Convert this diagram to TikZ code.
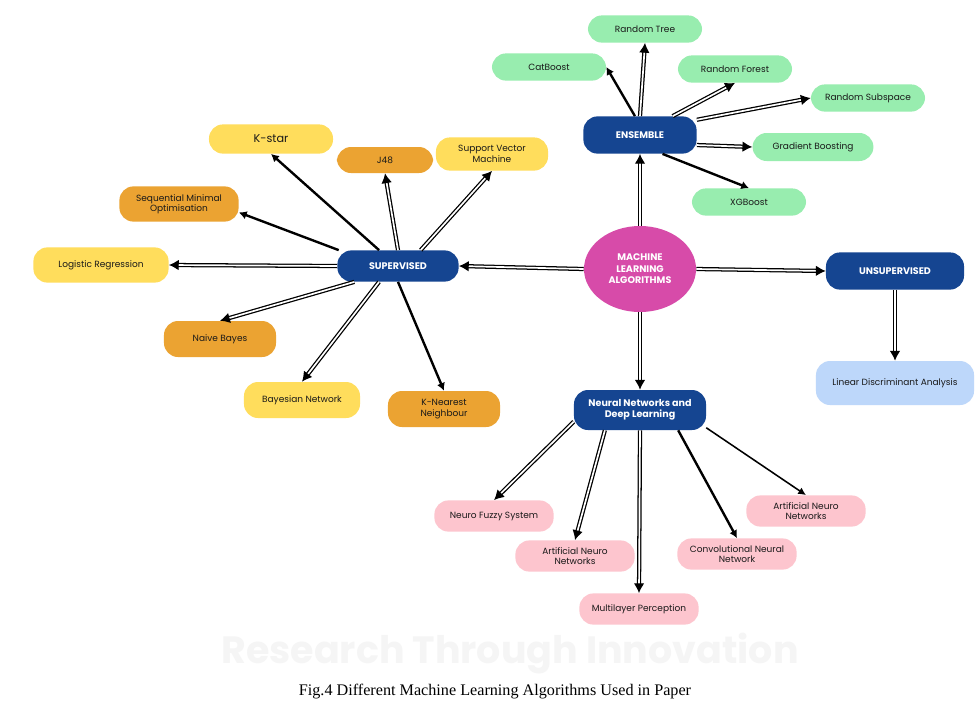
\documentclass[tikz,border=0pt]{standalone}
\usepackage{fontspec}
\setmainfont{Poppins}
\newfontfamily\capfont{Liberation Serif}
\usetikzlibrary{arrows.meta}
\usetikzlibrary{shapes.geometric}
\definecolor{navy}{RGB}{21,69,145}
\definecolor{pinkml}{RGB}{215,75,169}
\definecolor{mint}{RGB}{152,237,175}
\definecolor{sun}{RGB}{255,221,92}
\definecolor{amber}{RGB}{235,163,50}
\definecolor{sky}{RGB}{189,215,250}
\definecolor{rose}{RGB}{253,197,206}
\definecolor{ink}{RGB}{25,25,25}
\tikzset{l/.style={font=\fontsize{6.4}{7.4}\selectfont}}
\tikzset{m/.style={font=\bfseries\fontsize{6.8}{8.2}\selectfont}}
\tikzset{box/.style={rounded corners=10pt, align=center, inner sep=1pt, text=ink, l}}
\tikzset{hub/.style={box, fill=navy, text=white, m}}
\tikzset{grn/.style={box, fill=mint, minimum width=2.85cm, minimum height=0.68cm}}
\tikzset{yel/.style={box, fill=sun, minimum width=2.8cm, minimum height=0.9cm}}
\tikzset{org/.style={box, fill=amber, minimum width=2.8cm, minimum height=0.9cm}}
\tikzset{pnk/.style={box, fill=rose, minimum width=2.98cm, minimum height=0.78cm}}
\tikzset{dbl/.style={double=white, double distance=1.2pt, line width=0.9pt, -{Latex[length=7pt,width=7.5pt]}}}
\tikzset{sgl/.style={line width=1.7pt, -{Latex[length=5.5pt,width=6pt]}}}
\tikzset{thn/.style={line width=1.1pt, -{Latex[length=5.5pt,width=5.5pt]}}}

\begin{document}
\begin{tikzpicture}[x=0.025cm, y=-0.025cm]
  \useasboundingbox[fill=white] (0,0) rectangle (979,712);

  % centre
  \node (ml) [ellipse, fill=pinkml, text=white, m, align=center, inner sep=0pt,
    minimum width=2.8cm, minimum height=2.15cm] at (640,269)
    {MACHINE\\LEARNING\\ALGORITHMS};

  % ensemble
  \node (ens) [hub, minimum width=2.83cm, minimum height=0.93cm] at (640,135) {ENSEMBLE};
  \node (cat) [grn] at (549,67) {CatBoost};
  \node (rtree) [grn] at (645,29) {Random Tree};
  \node (rforest) [grn] at (735,69) {Random Forest};
  \node (rsub) [grn] at (868,98) {Random Subspace};
  \node (gboost) [grn, minimum width=3.02cm, minimum height=0.7cm] at (813,147) {Gradient Boosting};
  \node (xgb) [grn] at (749,202) {XGBoost};

  % supervised
  \node (sup) [hub, minimum width=3.03cm, minimum height=0.78cm] at (398,266) {SUPERVISED};
  \node (kstar) [yel, minimum width=3.1cm, minimum height=0.73cm,
    font=\fontsize{8}{9}\selectfont] at (271,139) {K-star};
  \node (jff) [org, minimum width=2.4cm, minimum height=0.65cm] at (385,160) {J48};
  \node (svm) [yel, minimum height=0.83cm] at (492,154) {Support Vector\\Machine};
  \node (smo) [org, minimum width=2.98cm, minimum height=0.88cm] at (179,204)
    {Sequential Minimal\\Optimisation};
  \node (logreg) [yel, minimum width=3.38cm, minimum height=0.88cm] at (101,265)
    {Logistic Regression};
  \node (nbayes) [org] at (220,339) {Naive Bayes};
  \node (bnet) [yel, minimum width=2.9cm] at (302,400) {Bayesian Network};
  \node (knn) [org] at (444,409) {K-Nearest\\Neighbour};

  % unsupervised
  \node (uns) [hub, minimum width=3.45cm, minimum height=0.93cm] at (895,271) {UNSUPERVISED};
  \node (lda) [box, fill=sky, minimum width=3.95cm, minimum height=1.1cm] at (895,383)
    {Linear Discriminant Analysis};

  % neural networks
  \node (nn) [hub, minimum width=3.3cm, minimum height=1cm] at (640,410)
    {Neural Networks and\\Deep Learning};
  \node (nfs) [pnk] at (494,516) {Neuro Fuzzy System};
  \node (annl) [pnk] at (575,556) {Artificial Neuro\\Networks};
  \node (mlp) [pnk] at (639,609) {Multilayer Perception};
  \node (cnn) [pnk] at (737,554) {Convolutional Neural\\Network};
  \node (annr) [pnk] at (806,511) {Artificial Neuro\\Networks};

  % arrows
  \draw[dbl] (ml.north) -- (ens.south);
  \draw[dbl] (ml.west) -- (sup.east);
  \draw[dbl] (ml.east) -- (uns.west);
  \draw[dbl] (ml.south) -- (nn.north);

  \draw[sgl] (ens.105) -- (cat.east);
  \draw[dbl] (ens.north) -- (rtree.south);
  \draw[dbl] (ens.30) -- (rforest.south);
  \draw[dbl] (ens.15) -- (rsub.west);
  \draw[dbl] (ens.-10) -- (gboost.west);
  \draw[sgl] (ens.-40) -- (xgb.north);

  \draw[sgl] (sup.140) -- (kstar.south);
  \draw[dbl] (sup.north) -- (jff.south);
  \draw[dbl] (sup.35) -- (svm.south);
  \draw[sgl] (sup.165) -- (smo.-8);
  \draw[dbl] (sup.west) -- (logreg.east);
  \draw[dbl] (sup.-160) -- (nbayes.north);
  \draw[dbl] (sup.-140) -- (bnet.north);
  \draw[sgl] (sup.south) -- (knn.north);

  \draw[dbl] (uns.south) -- (lda.north);

  \draw[dbl] (nn.-170) -- (nfs.north);
  \draw[dbl] (nn.-150) -- (annl.north);
  \draw[dbl] (nn.south) -- (mlp.north);
  \draw[sgl] (nn.-28) -- (cnn.north);
  \draw[thn] (nn.-15) -- (annr.north);

  % watermark and caption
  \node (wm) [text=black!4, font=\bfseries\fontsize{27}{29}\selectfont] at (510,654)
    {Research Through Innovation};
  \node (cap) [font=\capfont\fontsize{11.5}{13}\selectfont] at (495,692)
    {Fig.4 Different Machine Learning Algorithms Used in Paper};
\end{tikzpicture}
\end{document}
